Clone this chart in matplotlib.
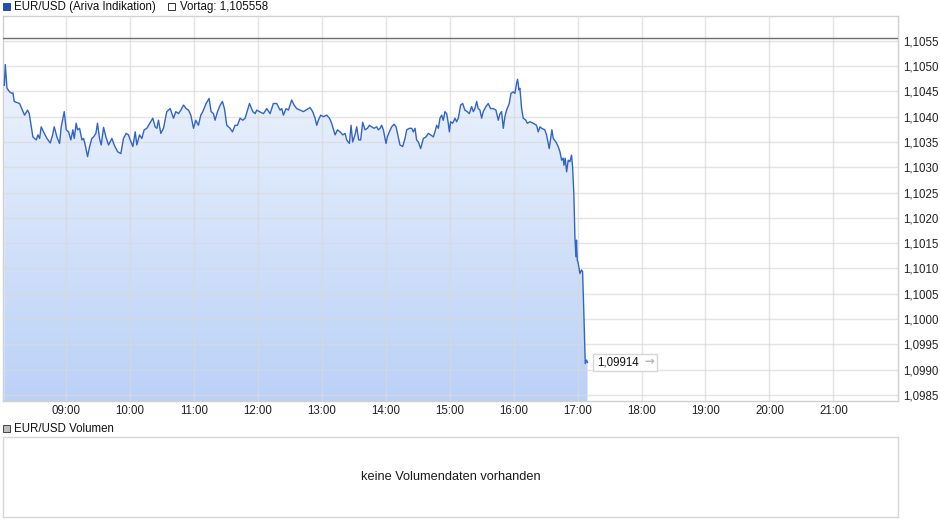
import numpy as np
import matplotlib
matplotlib.use("Agg")
import matplotlib.pyplot as plt
from matplotlib.colors import LinearSegmentedColormap
from matplotlib.patches import Rectangle

plt.rcParams["font.family"] = ["Liberation Sans", "DejaVu Sans"]

# minutes after 08:00 and EUR/USD quotes
minutes = [2.2, 3.1, 4.7, 7.2, 9.4, 10.3, 11.5, 14.0, 16.5, 19.7, 21.2, 24.0, 25.6,
           29.0, 32.2, 33.7, 35.3, 36.8, 39.0, 42.2, 45.3, 47.5, 49.0, 51.5, 54.0,
           55.6, 58.4, 60.3, 62.5, 64.6, 66.5, 67.8, 69.6, 70.9, 72.8, 75.0, 76.5,
           78.1, 80.3, 82.2, 84.3, 85.9, 88.1, 89.6, 91.5, 93.1, 95.3, 97.5, 100.0,
           103.1, 105.3, 108.4, 111.5, 114.0, 116.5, 118.7, 120.3, 122.8, 125.0,
           126.5, 129.0, 131.2, 133.4, 135.9, 139.6, 141.5, 143.7, 145.3, 146.8,
           149.0, 151.5, 154.6, 157.8, 160.9, 163.1, 165.6, 167.8, 170.3, 172.8,
           175.0, 177.2, 179.7, 181.8, 184.3, 186.5, 188.4, 191.5, 194.3, 196.2,
           198.4, 199.9, 202.2, 204.7, 206.8, 208.7, 210.9, 214.0, 216.2, 218.7,
           220.9, 223.4, 225.9, 228.1, 232.2, 235.3, 237.5, 239.0, 241.5, 245.3,
           248.4, 251.5, 254.6, 257.8, 260.9, 262.5, 264.0, 266.5, 268.7, 271.8,
           274.0, 276.5, 279.7, 282.8, 285.9, 289.0, 291.5, 293.7, 295.3, 296.8,
           299.0, 301.5, 304.7, 307.2, 309.3, 312.5, 314.7, 317.2, 319.7, 321.9,
           323.4, 325.9, 327.5, 329.0, 331.2, 332.8, 334.7, 336.5, 338.4, 340.6,
           342.8, 344.7, 346.8, 349.0, 351.5, 353.1, 354.7, 356.2, 357.8, 360.3,
           361.5, 363.4, 365.6, 367.8, 369.7, 371.8, 373.4, 375.9, 378.1, 379.7,
           382.2, 384.4, 385.9, 387.5, 389.0, 390.6, 392.8, 395.3, 397.8, 400.0,
           402.2, 404.7, 406.2, 407.8, 409.4, 410.9, 412.5, 414.0, 415.6, 417.2,
           418.7, 419.7, 420.9, 422.8, 425.0, 426.5, 428.1, 430.3, 432.2, 434.3,
           436.5, 438.4, 440.6, 442.2, 443.7, 445.3, 446.8, 448.4, 450.0, 451.5,
           454.0, 456.2, 458.4, 460.9, 463.4, 465.6, 467.2, 468.7, 470.3, 471.8,
           473.4, 475.9, 477.5, 479.7, 481.2, 482.8, 483.7, 485.0, 485.9, 487.5,
           489.0, 491.5, 492.8, 495.3, 498.4, 501.5, 503.1, 504.7, 506.2, 509.3,
           510.9, 512.5, 513.4, 514.7, 515.9, 517.2, 519.7, 521.8, 523.4, 525.0,
           526.5, 527.2, 528.4, 529.7, 531.2, 532.8, 534.3, 535.3, 536.5, 537.5,
           538.4, 539.0, 539.7, 540.6, 542.2, 543.7, 544.7, 545.9, 547.2, 548.4,
           549.3]
prices = [1.10462, 1.10503, 1.10456, 1.10449, 1.10446, 1.10447, 1.10430, 1.10428,
          1.10426, 1.10410, 1.10403, 1.10413, 1.10406, 1.10360, 1.10354, 1.10364,
          1.10357, 1.10380, 1.10370, 1.10357, 1.10348, 1.10364, 1.10380, 1.10360,
          1.10347, 1.10380, 1.10410, 1.10374, 1.10370, 1.10354, 1.10374, 1.10357,
          1.10387, 1.10374, 1.10377, 1.10354, 1.10357, 1.10344, 1.10321, 1.10341,
          1.10357, 1.10360, 1.10367, 1.10387, 1.10357, 1.10344, 1.10379, 1.10360,
          1.10344, 1.10357, 1.10344, 1.10331, 1.10327, 1.10357, 1.10367, 1.10364,
          1.10354, 1.10341, 1.10370, 1.10344, 1.10364, 1.10357, 1.10374, 1.10377,
          1.10390, 1.10397, 1.10380, 1.10377, 1.10393, 1.10367, 1.10377, 1.10410,
          1.10416, 1.10397, 1.10410, 1.10406, 1.10413, 1.10423, 1.10416, 1.10413,
          1.10403, 1.10377, 1.10393, 1.10383, 1.10403, 1.10410, 1.10426, 1.10436,
          1.10410, 1.10406, 1.10393, 1.10410, 1.10423, 1.10430, 1.10416, 1.10383,
          1.10377, 1.10370, 1.10383, 1.10383, 1.10397, 1.10393, 1.10397, 1.10426,
          1.10410, 1.10406, 1.10413, 1.10410, 1.10406, 1.10416, 1.10406, 1.10426,
          1.10426, 1.10413, 1.10416, 1.10403, 1.10416, 1.10413, 1.10433, 1.10423,
          1.10416, 1.10413, 1.10410, 1.10414, 1.10418, 1.10410, 1.10397, 1.10383,
          1.10393, 1.10403, 1.10400, 1.10403, 1.10397, 1.10387, 1.10364, 1.10374,
          1.10370, 1.10364, 1.10367, 1.10354, 1.10347, 1.10383, 1.10350, 1.10364,
          1.10380, 1.10354, 1.10354, 1.10389, 1.10374, 1.10377, 1.10383, 1.10380,
          1.10377, 1.10380, 1.10374, 1.10377, 1.10383, 1.10374, 1.10347, 1.10360,
          1.10370, 1.10380, 1.10385, 1.10380, 1.10360, 1.10344, 1.10341, 1.10357,
          1.10374, 1.10377, 1.10377, 1.10370, 1.10377, 1.10354, 1.10350, 1.10337,
          1.10357, 1.10360, 1.10367, 1.10364, 1.10360, 1.10370, 1.10383, 1.10377,
          1.10397, 1.10403, 1.10393, 1.10410, 1.10406, 1.10387, 1.10370, 1.10390,
          1.10387, 1.10397, 1.10390, 1.10397, 1.10423, 1.10426, 1.10413, 1.10410,
          1.10406, 1.10420, 1.10410, 1.10416, 1.10430, 1.10416, 1.10413, 1.10397,
          1.10410, 1.10420, 1.10426, 1.10416, 1.10416, 1.10413, 1.10393, 1.10406,
          1.10410, 1.10377, 1.10400, 1.10413, 1.10426, 1.10446, 1.10449, 1.10446,
          1.10466, 1.10474, 1.10453, 1.10456, 1.10416, 1.10397, 1.10393, 1.10387,
          1.10390, 1.10387, 1.10383, 1.10370, 1.10380, 1.10377, 1.10374, 1.10364,
          1.10347, 1.10337, 1.10357, 1.10374, 1.10357, 1.10350, 1.10341, 1.10331,
          1.10314, 1.10318, 1.10304, 1.10318, 1.10291, 1.10314, 1.10311, 1.10324,
          1.10301, 1.10248, 1.10163, 1.10123, 1.10156, 1.10117, 1.10110, 1.10090,
          1.10097, 1.10094, 1.10011, 1.09912, 1.09919, 1.09914]

prev_close = 1.105558
hour_labels = ["09:00", "10:00", "11:00", "12:00", "13:00", "14:00", "15:00",
               "16:00", "17:00", "18:00", "19:00", "20:00", "21:00"]
price_ticks = [1.0985, 1.0990, 1.0995, 1.1000, 1.1005, 1.1010, 1.1015, 1.1020,
               1.1025, 1.1030, 1.1035, 1.1040, 1.1045, 1.1050, 1.1055]

hours = 8 + np.array(minutes) / 60.0
prices = np.array(prices)

W, H = 940, 526
fig = plt.figure(figsize=(W / 100, H / 100), dpi=100)

def frac(x0, y0, x1, y1):
    return [x0 / W, 1 - y1 / H, (x1 - x0) / W, (y1 - y0) / H]

ax = fig.add_axes(frac(3, 16, 898, 401))
x_lo, x_hi = 8.016, 22.01
y_lo, y_hi = 1.09838, 1.10599
ax.set_xlim(x_lo, x_hi)
ax.set_ylim(y_lo, y_hi)

grid_col = "#d9d9d9"
for i in range(len(hour_labels)):
    ax.axvline(9 + i, color=grid_col, lw=1, zorder=3, alpha=0.7)
for p in price_ticks:
    ax.axhline(p, color=grid_col, lw=1, zorder=3, alpha=0.7)

# gradient fill under the line
cmap = LinearSegmentedColormap.from_list("fill", ["#bad1f7", "#f4f8fe"])
grad = np.linspace(0, 1, 256).reshape(-1, 1)
img = ax.imshow(grad, cmap=cmap, aspect="auto", origin="lower",
                extent=[x_lo, x_hi, y_lo, y_hi], zorder=1)
poly = ax.fill_between(hours, prices, y_lo, color="none", lw=0)
img.set_clip_path(poly.get_paths()[0], transform=ax.transData)

ax.plot(hours, prices, color="#3264c6", lw=1.0, zorder=4)
ax.axhline(prev_close, color="#6e6e6e", lw=1, zorder=5)

ax.set_xticks([9 + i for i in range(len(hour_labels))])
ax.set_xticklabels(hour_labels)
ax.set_yticks(price_ticks)
ax.set_yticklabels([f"{p:.4f}".replace(".", ",") for p in price_ticks])
ax.yaxis.tick_right()
ax.tick_params(axis="both", length=0, labelsize=8.3, colors="#222222")
ax.tick_params(axis="x", pad=3)
ax.tick_params(axis="y", pad=4)
for s in ax.spines.values():
    s.set_color("#d0d0d0")
    s.set_linewidth(1)

# last price label with grey arrow, boxed together
lbl = ax.annotate("1,09914", xy=(hours[-1], prices[-1]), xytext=(7, 0),
                  textcoords="offset points", va="center", ha="left", fontsize=8.3,
                  color="#111111", zorder=8)
arr = ax.annotate("\u2192", xy=(hours[-1], prices[-1]), xytext=(41, 0.5),
                  textcoords="offset points", va="center", ha="left", fontsize=8.5,
                  color="#b5b5b5", zorder=8, family="DejaVu Sans", fontweight="bold")
renderer = fig.canvas.get_renderer()
b1 = lbl.get_window_extent(renderer)
b2 = arr.get_window_extent(renderer)
y_mid = (b1.y0 + b1.y1) / 2
ax.add_patch(Rectangle((b1.x0 - 4, y_mid - 8.5), b2.x1 + 3 - (b1.x0 - 4), 17,
                       transform=None, fc="white", ec="#d6d6d6", lw=1, zorder=6,
                       clip_on=False))

# header legend
fig.patches.append(Rectangle((3 / W, 1 - 10 / H), 7 / W, 7 / H,
                             transform=fig.transFigure, fc="#1f50b8", ec="#1a3f8f", lw=0.6))
fig.text(14 / W, 1 - 7 / H, "EUR/USD (Ariva Indikation)", fontsize=8.3,
         va="center", ha="left", color="#111111")
fig.patches.append(Rectangle((168 / W, 1 - 10 / H), 7 / W, 7 / H,
                             transform=fig.transFigure, fc="white", ec="#333333", lw=0.7))
fig.text(180 / W, 1 - 7 / H, "Vortag: 1,105558", fontsize=8.3,
         va="center", ha="left", color="#111111")

# volume panel
vax = fig.add_axes(frac(3, 437, 898, 517))
vax.set_xticks([])
vax.set_yticks([])
for s in vax.spines.values():
    s.set_color("#d6d6d6")
    s.set_linewidth(1)
vax.text(0.5, 0.5, "keine Volumendaten vorhanden", transform=vax.transAxes,
         ha="center", va="center", fontsize=9.2, color="#1a1a1a")
fig.patches.append(Rectangle((3 / W, 1 - 432 / H), 7 / W, 7 / H,
                             transform=fig.transFigure, fc="#bdbdbd", ec="#444444", lw=0.7))
fig.text(14 / W, 1 - 428.5 / H, "EUR/USD Volumen", fontsize=8.3,
         va="center", ha="left", color="#111111")

fig.savefig("out.png", dpi=100)
